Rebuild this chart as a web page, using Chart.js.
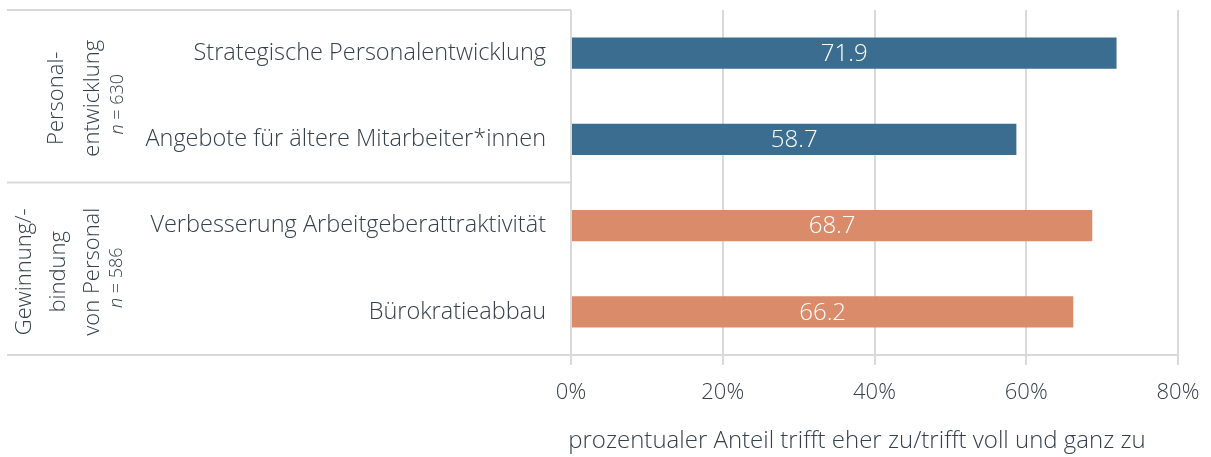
<!DOCTYPE html>
<html>
<head>
<meta charset="utf-8">
<script src="https://cdn.jsdelivr.net/npm/chart.js@4"></script>
<style>
  html,body{margin:0;padding:0;background:#fff;}
  #wrap{position:relative;width:1211px;height:457px;}
</style>
</head>
<body>
<div id="wrap"><canvas id="c"></canvas></div>
<script>
const categories = ["Strategische Personalentwicklung", "Angebote für ältere Mitarbeiter*innen", "Verbesserung Arbeitgeberattraktivität", "Bürokratieabbau"];
const values = [71.9, 58.7, 68.7, 66.2];
const groupOf = [0, 0, 1, 1];
const groupLines = [["Personal-", "entwicklung"], ["Gewinnung/-", "bindung", "von Personal"]];
const groupN = ["630", "586"];
const xTicks = [0, 20, 40, 60, 80];
const axisTitle = "prozentualer Anteil trifft eher zu/trifft voll und ganz zu";

const C = { blue:"#3a6d8f", orange:"#d98b6a", text:"#35404a", grid:"#d9d9d9" };
const FONT = "'Open Sans', 'Noto Sans', sans-serif";
Chart.defaults.font.family = FONT;
Chart.defaults.color = C.text;

const groupColors = [C.blue, C.orange];

const decor = {
  id: "decor",
  afterDraw(chart){
    const ctx = chart.ctx, a = chart.chartArea, y = chart.scales.y;
    ctx.save();
    // frame lines on label side
    ctx.strokeStyle = C.grid; ctx.lineWidth = 2;
    const sep = (y.getPixelForTick(1) + y.getPixelForTick(2)) / 2;
    const hl = (yy, x2) => { ctx.beginPath(); ctx.moveTo(7, yy); ctx.lineTo(x2, yy); ctx.stroke(); };
    hl(a.top, a.left); hl(sep, a.left); hl(a.bottom, a.right);
    // value labels
    const meta = chart.getDatasetMeta(0);
    ctx.fillStyle = "#fff"; ctx.font = "300 24px " + FONT;
    ctx.textAlign = "center"; ctx.textBaseline = "middle";
    meta.data.forEach((bar, i) => {
      ctx.fillText(values[i].toFixed(1), (bar.x + bar.base) / 2, bar.y + 1);
    });
    // axis title, sits a bit left of the plot centre
    ctx.fillStyle = C.text; ctx.font = "300 24px " + FONT;
    ctx.fillText(axisTitle, 857, 441);
    // group labels
    const bands = [[a.top, sep], [sep, a.bottom]];
    const xs = [[57, 93], [25, 59, 93]];
    const nx = [118, 117];
    const dy = [2, 3];
    groupLines.forEach((lines, g) => {
      const cy = (bands[g][0] + bands[g][1]) / 2 + dy[g];
      lines.forEach((t, k) => {
        ctx.save(); ctx.translate(xs[g][k], cy); ctx.rotate(-Math.PI / 2);
        ctx.font = "300 22px " + FONT; ctx.fillText(t, 0, 0); ctx.restore();
      });
      ctx.save(); ctx.translate(nx[g], cy + 6); ctx.rotate(-Math.PI / 2);
      ctx.font = "italic 300 18px " + FONT;
      const w1 = ctx.measureText("n").width;
      ctx.font = "300 18px " + FONT;
      const rest = " = " + groupN[g];
      const w2 = ctx.measureText(rest).width;
      ctx.textAlign = "left";
      ctx.font = "italic 300 18px " + FONT; ctx.fillText("n", -(w1 + w2) / 2, 0);
      ctx.font = "300 18px " + FONT; ctx.fillText(rest, -(w1 + w2) / 2 + w1, 0);
      ctx.restore();
    });
    ctx.restore();
  }
};

new Chart(document.getElementById("c"), {
  type: "bar",
  data: {
    labels: categories,
    datasets: [{
      data: values,
      backgroundColor: groupOf.map(g => groupColors[g]),
      barPercentage: 0.36, categoryPercentage: 1
    }]
  },
  options: {
    indexAxis: "y",
    responsive: true, maintainAspectRatio: false, animation: false,
    layout: { padding: { top: 10, right: 33, left: 0, bottom: 0 } },
    plugins: { legend: { display: false }, tooltip: { enabled: false } },
    scales: {
      x: {
        min: 0, max: 80,
        afterBuildTicks: s => { s.ticks = xTicks.map(v => ({ value: v })); },
        afterFit: s => { s.height = 102; s.paddingLeft = 0; s.paddingRight = 0; },
        grid: { color: C.grid, lineWidth: 2, tickLength: 10 },
        border: { display: false },
        ticks: { padding: 15, font: { size: 22, weight: 300 }, color: C.text, callback: v => v + "%" },
        title: { display: false }
      },
      y: {
        afterFit: s => { s.width = 571; s.paddingTop = 0; s.paddingBottom = 0; },
        grid: { display: false },
        border: { display: false },
        ticks: { padding: 17, font: { size: 23.5, weight: 300 }, color: C.text }
      }
    }
  },
  plugins: [decor]
});
</script>
</body>
</html>
